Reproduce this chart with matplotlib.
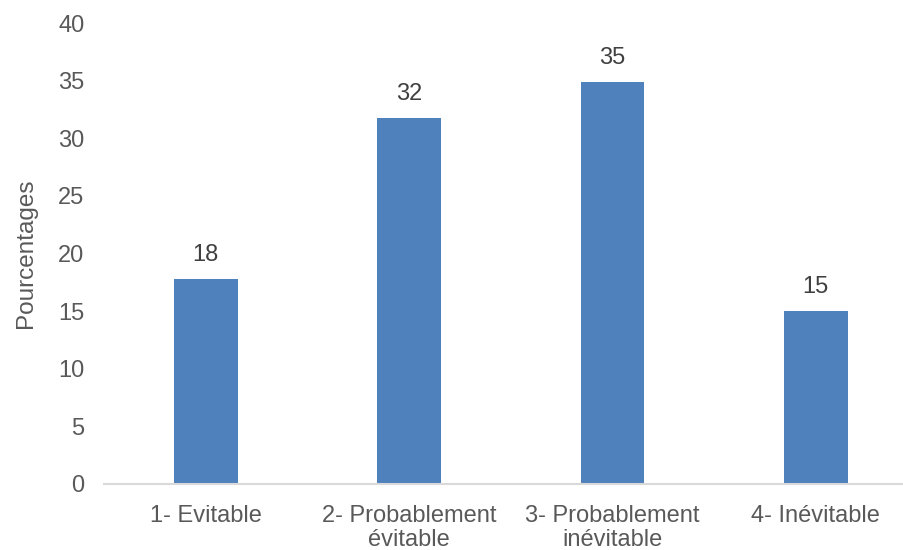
import matplotlib.pyplot as plt

plt.rcParams['font.family'] = ['Liberation Sans', 'DejaVu Sans']

# data
categories = ['1- Evitable', '2- Probablement\névitable',
              '3- Probablement\ninévitable', '4- Inévitable']
values = [17.8, 31.8, 34.9, 15.0]
labels = ['18', '32', '35', '15']
yticks = [0, 5, 10, 15, 20, 25, 30, 35, 40]

fig = plt.figure(figsize=(9.04, 5.5), dpi=100)
ax = fig.add_axes([0.115, 0.12, 0.9, 0.838])

x = range(len(categories))
bars = ax.bar(x, values, width=0.314, color='#4f81bd', zorder=2)
for b, lab in zip(bars, labels):
    ax.text(b.get_x() + b.get_width() / 2, b.get_height() + 1.1, lab,
            ha='center', va='bottom', fontsize=17, color='#404040')

ax.set_xlim(-0.5, 3.5)
ax.set_ylim(0, 40)
ax.set_yticks(yticks)
ax.set_xticks(list(x))
ax.set_xticklabels(categories, fontsize=17, color='#595959', linespacing=1.1)
ax.tick_params(axis='y', length=0, labelsize=17, labelcolor='#595959', pad=14)
ax.tick_params(axis='x', length=0, pad=15)
ax.set_ylabel('Pourcentages', fontsize=17.5, color='#595959', labelpad=15)

for s in ['top', 'right', 'left']:
    ax.spines[s].set_visible(False)
ax.spines['bottom'].set_color('#d9d9d9')
ax.spines['bottom'].set_linewidth(1.5)

fig.savefig('out.png', dpi=100)
